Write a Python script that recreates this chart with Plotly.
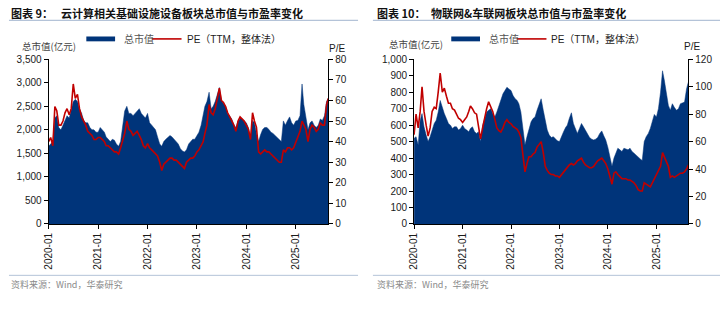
import plotly.graph_objects as go

# ---------------- data (semi-monthly samples) ----------------
YEARS = [2020, 2021, 2022, 2023, 2024, 2025]
DATES = [f"{y}-{m:02d}-{d:02d}" for y in YEARS for m in range(1, 13) for d in (1, 16)
         if (y, m) <= (2025, 8)] + ["2025-08-29"]
X_TICKS = ["2020-01-01", "2021-01-01", "2022-01-01", "2023-01-01", "2024-01-01", "2025-01-01"]

# Panel 9: cloud computing infrastructure equipment
L_CAP = [1650, 1700, 1750, 2250, 2300, 2050, 2000, 2100, 2200, 2300, 2250, 2450, 2600, 2650, 2600, 2450, 2350, 2200, 2150, 2150, 2050, 2000, 2000, 1950,
         1950, 2050, 2000, 1950, 1850, 1800, 1750, 1800, 1780, 1700, 1650, 1750, 2100, 2400, 2500, 2350, 2350, 2300, 2350, 2400, 2450, 2350, 2300, 2250,
         2350, 2150, 2100, 2050, 2000, 1850, 1700, 1650, 1750, 1800, 1850, 1880, 1850, 1800, 1750, 1700, 1600, 1550, 1530, 1575, 1700, 1750, 1800, 1800,
         1880, 1950, 2100, 2350, 2500, 2600, 2800, 2450, 2500, 2600, 2750, 2900, 2625, 2550, 2500, 2350, 2280, 2230, 2100, 2050, 2190, 2230, 2230, 2190,
         2150, 2050, 1850, 2200, 2150, 1925, 1750, 1900, 2010, 2050, 2050, 2010, 1950, 1925, 1880, 1850, 1800, 1750, 2190, 2100, 2200, 2275, 2150, 2100,
         2190, 2200, 2300, 2975, 2540, 2300, 2000, 2150, 2190, 2100, 2050, 2100, 2230, 2200, 2300, 2600, 2670]
L_PE = [40, 42, 38, 57, 55, 48, 48, 50, 54, 56, 53, 56, 68, 61, 63, 56, 52, 50, 48, 45, 44, 43, 41, 41,
        42, 42, 41, 40, 38, 38, 37, 36, 35, 35, 34, 37, 41, 44, 50, 46, 45, 43, 44, 45, 43, 41, 38, 37,
        39, 37, 36, 35, 34, 33, 30, 26, 29, 30, 31, 32, 32, 31, 31, 30, 29, 28, 27, 30, 31, 32, 32, 33,
        35, 36, 38, 40, 44, 48, 58, 54, 53, 56, 61, 66, 60, 59, 57, 54, 52, 50, 48, 45, 50, 52, 51, 50,
        48, 46, 41, 54, 50, 47, 35, 34, 35, 36, 35, 35, 34, 33, 32, 31, 30, 30, 36, 35, 37, 37, 36, 37,
        40, 42, 45, 50, 48, 46, 40, 46, 48, 47, 45, 46, 49, 48, 48, 58, 61]

# Panel 10: IoT & connected vehicles
R_CAP = [520, 530, 480, 630, 670, 590, 540, 500, 530, 570, 610, 630, 680, 750, 700, 670, 640, 610, 600, 580, 590, 590, 570, 580,
         600, 580, 570, 560, 580, 590, 560, 550, 560, 500, 600, 640, 680, 690, 700, 670, 650, 680, 720, 750, 790, 810, 830, 820,
         810, 780, 760, 750, 730, 680, 580, 480, 530, 580, 620, 640, 650, 690, 730, 760, 690, 620, 570, 540, 525, 530, 515, 505,
         500, 535, 560, 585, 600, 640, 675, 610, 575, 550, 580, 610, 590, 570, 545, 525, 515, 510, 515, 525, 550, 565, 535, 510,
         465, 400, 350, 400, 430, 460, 450, 440, 460, 455, 450, 460, 440, 430, 420, 410, 395, 385, 500, 530, 550, 580, 620, 665,
         650, 700, 800, 930, 875, 800, 720, 690, 730, 708, 690, 700, 730, 735, 740, 820, 860]
R_PE = [65, 80, 70, 82, 100, 82, 72, 64, 70, 82, 85, 84, 96, 110, 96, 99, 93, 88, 88, 84, 83, 80, 77, 76,
        74, 76, 78, 82, 86, 84, 81, 80, 72, 62, 70, 78, 84, 89, 86, 82, 76, 70, 68, 67, 70, 74, 76, 74,
        73, 71, 70, 69, 67, 63, 50, 38, 44, 49, 49, 51, 52, 56, 58, 60, 52, 42, 39, 37, 36, 36, 35, 35,
        34, 36, 38, 40, 41, 43, 44, 43, 44, 46, 47, 48, 45, 43, 42, 41, 41, 42, 44, 46, 47, 48, 46, 44,
        40, 35, 29, 37, 38, 36, 34, 33, 33, 33, 32, 32, 31, 30, 28, 25, 24, 24, 30, 29, 28, 27, 30, 33,
        35, 38, 42, 52, 49, 46, 42, 34, 35, 34, 35, 36, 37, 37, 38, 40, 43]

TITLES = ["图表 9：", "图表 10："]
SUBTITLES = ["云计算相关基础设施设备板块总市值与市盈率变化", "物联网&车联网板块总市值与市盈率变化"]
SOURCE = "资料来源：Wind，华泰研究"
LEG_CAP = "总市值"
LEG_PE = "PE（TTM，整体法）"
Y_LEFT_TITLE = "总市值(亿元)"
Y_RIGHT_TITLE = "P/E"

# ---------------- styles ----------------
W, H = 720, 322
NAVY = "#00347A"
RED = "#C00000"
FONT = "Arial, 'Liberation Sans', 'Noto Sans CJK SC', sans-serif"
CJK = "'Noto Sans CJK SC', Arial, sans-serif"
TXT = "#1a1a1a"


def px(x):
    return x / W


def py(y):
    return 1 - y / H


fig = go.Figure()

fig.add_trace(go.Scatter(x=DATES, y=L_CAP, mode="lines", fill="tozeroy", fillcolor=NAVY,
                         line=dict(color=NAVY, width=0.5), xaxis="x", yaxis="y", showlegend=False))
fig.add_trace(go.Scatter(x=DATES, y=L_PE, mode="lines", line=dict(color=RED, width=1.6),
                         xaxis="x", yaxis="y2", showlegend=False))
fig.add_trace(go.Scatter(x=DATES, y=R_CAP, mode="lines", fill="tozeroy", fillcolor=NAVY,
                         line=dict(color=NAVY, width=0.5), xaxis="x2", yaxis="y3", showlegend=False))
fig.add_trace(go.Scatter(x=DATES, y=R_PE, mode="lines", line=dict(color=RED, width=1.6),
                         xaxis="x2", yaxis="y4", showlegend=False))

YD = [py(226), py(56)]
XR = ["2020-01-01", "2025-08-29"]

xcommon = dict(range=XR, tickvals=X_TICKS, tickformat="%Y-%m", tickangle=-90,
               ticks="outside", ticklen=4, tickcolor="#000", showline=True, linecolor="#000",
               linewidth=1, showgrid=False, zeroline=False,
               tickfont=dict(family=FONT, size=10, color=TXT))
ycommon = dict(ticks="outside", ticklen=4, tickcolor="#000", showline=True, linecolor="#000",
               linewidth=1, showgrid=False, zeroline=False, tickformat=",",
               tickfont=dict(family=FONT, size=10, color=TXT), domain=YD)

fig.update_layout(
    width=W, height=H, margin=dict(l=0, r=0, t=0, b=0), autosize=False,
    paper_bgcolor="white", plot_bgcolor="white", showlegend=False,
    xaxis=dict(domain=[px(43), px(325)], anchor="y", **xcommon),
    xaxis2=dict(domain=[px(411.5), px(688)], anchor="y3", **xcommon),
    yaxis=dict(anchor="x", side="left", range=[0, 3500], dtick=500, **ycommon),
    yaxis2=dict(anchor="x", side="right", overlaying="y", range=[0, 80], dtick=10, **ycommon),
    yaxis3=dict(anchor="x2", side="left", range=[0, 1000], dtick=100, **ycommon),
    yaxis4=dict(anchor="x2", side="right", overlaying="y3", range=[0, 120], dtick=20, **ycommon),
)

annotations = []
shapes = []

panels = [
    dict(x0=3, line=(3, 355), ytitle=(14, 42.5), ptitle=(334, 44.5), sub_x=53,
         leg=(81, 110, 117, 147, 177, 180)),
    dict(x0=372, line=(370, 720), ytitle=(384, 40), ptitle=(692, 42.5), sub_x=427,
         leg=(449, 478, 485, 515, 545, 548)),
]

for i, p in enumerate(panels):
    # title
    annotations.append(dict(x=px(p["x0"]), y=py(8.5), xref="paper", yref="paper", xanchor="left",
                            yanchor="middle", showarrow=False, text="<b>" + TITLES[i] + "</b>",
                            font=dict(family=CJK, size=11, color="#111")))
    annotations.append(dict(x=px(p["sub_x"]), y=py(8.5), xref="paper", yref="paper", xanchor="left",
                            yanchor="middle", showarrow=False, text="<b>" + SUBTITLES[i] + "</b>",
                            font=dict(family=CJK, size=11, color="#111")))
    shapes.append(dict(type="line", xref="paper", yref="paper", x0=px(p["line"][0]), x1=px(p["line"][1]),
                       y0=py(15.8), y1=py(15.8), line=dict(color="#B4C3D8", width=1.2)))
    # source
    shapes.append(dict(type="line", xref="paper", yref="paper", x0=px(p["line"][0]), x1=px(p["line"][1]),
                       y0=py(279), y1=py(279), line=dict(color="#B4C3D8", width=1)))
    annotations.append(dict(x=px(p["x0"]), y=py(288), xref="paper", yref="paper", xanchor="left",
                            yanchor="middle", showarrow=False, text=SOURCE,
                            font=dict(family=CJK, size=9, color="#8a8a8a")))
    # axis titles
    annotations.append(dict(x=px(p["ytitle"][0]), y=py(p["ytitle"][1]), xref="paper", yref="paper",
                            xanchor="left", yanchor="middle", showarrow=False, text=Y_LEFT_TITLE,
                            font=dict(family=CJK, size=9.5, color="#444")))
    annotations.append(dict(x=px(p["ptitle"][0]), y=py(p["ptitle"][1]), xref="paper", yref="paper",
                            xanchor="center", yanchor="middle", showarrow=False, text=Y_RIGHT_TITLE,
                            font=dict(family=FONT, size=10, color=TXT)))
    # legend
    r0, r1, t1, l0, l1, t2 = p["leg"]
    shapes.append(dict(type="rect", xref="paper", yref="paper", x0=px(r0), x1=px(r1),
                       y0=py(37.5), y1=py(32.5), fillcolor=NAVY, line=dict(width=0)))
    annotations.append(dict(x=px(t1), y=py(35), xref="paper", yref="paper", xanchor="left",
                            yanchor="middle", showarrow=False, text=LEG_CAP,
                            font=dict(family=CJK, size=10, color="#555")))
    shapes.append(dict(type="line", xref="paper", yref="paper", x0=px(l0), x1=px(l1),
                       y0=py(35), y1=py(35), line=dict(color=RED, width=1.6)))
    annotations.append(dict(x=px(t2), y=py(35), xref="paper", yref="paper", xanchor="left",
                            yanchor="middle", showarrow=False, text=LEG_PE,
                            font=dict(family=FONT, size=10, color="#222")))

fig.update_layout(annotations=annotations, shapes=shapes)
fig.write_html("out.html")
